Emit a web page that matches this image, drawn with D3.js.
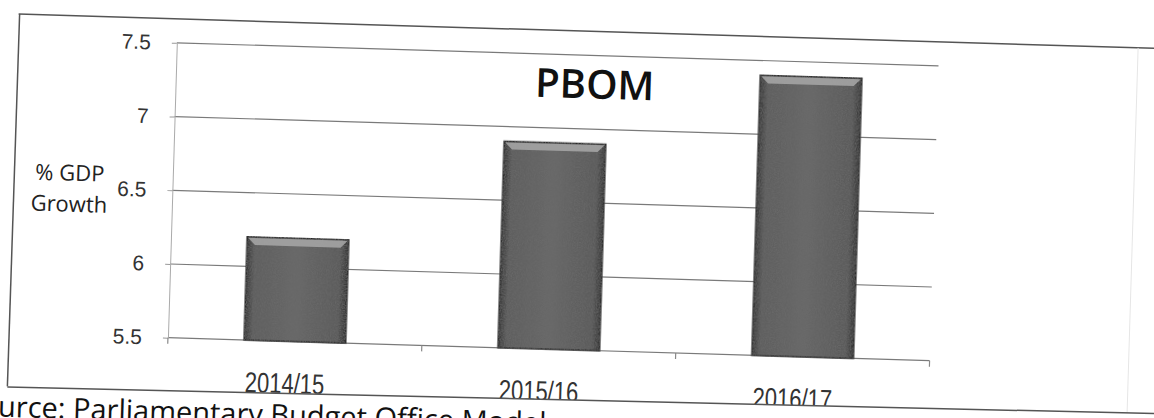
<!DOCTYPE html>
<html>

<head>
    <title>PBOM</title>
    <script src="https://d3js.org/d3.v7.min.js"></script>
    <style>
        body { margin: 0; background: #fff; }
    </style>
</head>

<body>
    <svg width="1154" height="418" id="mainsvg"></svg>
    <script>
        const categories = ['2014/15', '2015/16', '2016/17'];
        const growth = [6.2, 6.9, 7.4];
        const yTicks = [5.5, 6, 6.5, 7, 7.5];
        const chartTitle = 'PBOM';
        const yTitle = ['% GDP', 'Growth'];
        const sourceNote = 'Source: Parliamentary Budget Office Model';

        const svg = d3.select('#mainsvg');
        const width = +svg.attr('width');
        const height = +svg.attr('height');
        const margin = { top: 55, right: 220, bottom: 68, left: 172 };
        const innerWidth = width - margin.left - margin.right;
        const innerHeight = height - margin.top - margin.bottom;

        // the scan is a little crooked, so tilt the whole page
        const page = svg.append('g').attr('transform', 'rotate(1.73, 577, 209)');

        const defs = svg.append('defs');
        const grad = defs.append('linearGradient').attr('id', 'barfill')
            .attr('x1', 0).attr('x2', 1).attr('y1', 0).attr('y2', 0);
        grad.append('stop').attr('offset', '0%').attr('stop-color', '#333');
        grad.append('stop').attr('offset', '8%').attr('stop-color', '#5e5e5e');
        grad.append('stop').attr('offset', '50%').attr('stop-color', '#686868');
        grad.append('stop').attr('offset', '92%').attr('stop-color', '#5a5a5a');
        grad.append('stop').attr('offset', '100%').attr('stop-color', '#303030');

        // speckle so the bars look like the photocopy
        const noise = defs.append('filter').attr('id', 'grain');
        noise.append('feTurbulence').attr('type', 'fractalNoise').attr('baseFrequency', 0.8)
            .attr('numOctaves', 2).attr('seed', 3).attr('result', 'n');
        noise.append('feColorMatrix').attr('in', 'n').attr('type', 'matrix')
            .attr('values', '0 0 0 0 0.15  0 0 0 0 0.15  0 0 0 0 0.15  1.6 0 0 0 -0.55').attr('result', 'dark');
        noise.append('feComposite').attr('in', 'dark').attr('in2', 'SourceGraphic').attr('operator', 'in').attr('result', 'd2');
        noise.append('feMerge').call(m => {
            m.append('feMergeNode').attr('in', 'SourceGraphic');
            m.append('feMergeNode').attr('in', 'd2');
        });

        // outer frame of the chart
        page.append('line').attr('x1', 13).attr('y1', 31).attr('x2', 1170).attr('y2', 31)
            .attr('stroke', '#555').attr('stroke-width', 1.5);
        page.append('line').attr('x1', 14).attr('y1', 31).attr('x2', 13).attr('y2', 404)
            .attr('stroke', '#555').attr('stroke-width', 1.5);
        page.append('line').attr('x1', 1133).attr('y1', 31).attr('x2', 1133).attr('y2', 400)
            .attr('stroke', '#e6e6e6').attr('stroke-width', 1);

        const g = page.append('g').attr('id', 'maingroup')
            .attr('transform', `translate(${margin.left}, ${margin.top})`);

        const xScale = d3.scaleBand()
            .domain(categories)
            .range([0, innerWidth])
            .paddingInner(0.6)
            .paddingOuter(0.3);

        const yScale = d3.scaleLinear()
            .domain([5.5, 7.5])
            .range([innerHeight, 0]);

        // gridlines
        g.selectAll('.grid').data(yTicks).join('line')
            .attr('class', 'grid')
            .attr('x1', 0).attr('x2', innerWidth)
            .attr('y1', d => yScale(d)).attr('y2', d => yScale(d))
            .attr('stroke', '#7a7a7a').attr('stroke-width', 1.2);

        // y axis
        const yAxis = d3.axisLeft(yScale).tickValues(yTicks).tickFormat(d => d)
            .tickSize(5).tickSizeOuter(0).tickPadding(21);
        const yAxisGroup = g.append('g').attr('id', 'yaxis').call(yAxis);
        yAxisGroup.select('.domain').attr('stroke', '#aaa');
        yAxisGroup.selectAll('.tick line').attr('stroke', '#999');
        yAxisGroup.selectAll('.tick text')
            .attr('font-family', 'Liberation Sans, Arial, sans-serif')
            .attr('font-size', 21).attr('fill', '#333');

        // x ticks sit between categories
        const gap = (xScale.step() - xScale.bandwidth()) / 2;
        const bounds = categories.map(c => xScale(c) - gap).concat([innerWidth]);
        g.selectAll('.xtick').data(bounds).join('line')
            .attr('class', 'xtick')
            .attr('x1', d => d).attr('x2', d => d)
            .attr('y1', innerHeight).attr('y2', innerHeight + 6)
            .attr('stroke', '#888').attr('stroke-width', 1.2);

        // bars
        const bars = g.selectAll('.bar').data(categories).join('g').attr('class', 'bar');
        bars.append('rect')
            .attr('x', d => xScale(d))
            .attr('y', (d, i) => yScale(growth[i]))
            .attr('width', xScale.bandwidth())
            .attr('height', (d, i) => innerHeight - yScale(growth[i]))
            .attr('fill', 'url(#barfill)')
            .attr('stroke', '#262626').attr('stroke-width', 1.5)
            .attr('filter', 'url(#grain)');
        // bevel highlight on top
        bars.append('polygon')
            .attr('points', (d, i) => {
                const x0 = xScale(d), x1 = x0 + xScale.bandwidth(), y0 = yScale(growth[i]);
                return [[x0 + 1, y0 + 1], [x1 - 1, y0 + 1], [x1 - 8, y0 + 8], [x0 + 8, y0 + 8]].join(' ');
            })
            .attr('fill', '#a8a8a8').attr('opacity', 0.85);

        // category labels
        g.selectAll('.xlabel').data(categories).join('text')
            .attr('class', 'xlabel')
            .attr('transform', d => `translate(${xScale(d) + xScale.bandwidth() / 2 - 9}, ${innerHeight + 52}) scale(1, 1.3)`)
            .attr('text-anchor', 'middle')
            .attr('font-family', 'Liberation Sans, Arial, sans-serif')
            .attr('font-size', 22).attr('fill', '#333')
            .text(d => d);

        // title
        g.append('text')
            .attr('x', 591 - margin.left).attr('y', 98 - margin.top)
            .attr('text-anchor', 'middle')
            .attr('font-family', 'Open Sans, sans-serif')
            .attr('font-size', 40).attr('font-weight', 600).attr('fill', '#111')
            .text(chartTitle);

        // y axis title
        page.append('text')
            .attr('text-anchor', 'middle')
            .attr('font-family', 'Open Sans, sans-serif')
            .attr('font-size', 22).attr('fill', '#222')
            .selectAll('tspan').data(yTitle).join('tspan')
            .attr('x', 69).attr('y', (d, i) => 196 + i * 31)
            .text(d => d);

        // page fold hides the foot of the labels
        page.append('polygon')
            .attr('points', '-50,404 1200,396 1200,600 -50,600')
            .attr('fill', '#fff');
        page.append('line').attr('x1', 13).attr('y1', 404).attr('x2', 1170).attr('y2', 396)
            .attr('stroke', '#555').attr('stroke-width', 1.5);

        page.append('text')
            .attr('x', -29).attr('y', 434)
            .attr('font-family', 'Open Sans, sans-serif')
            .attr('font-size', 29).attr('fill', '#111')
            .text(sourceNote);
    </script>
</body>

</html>
